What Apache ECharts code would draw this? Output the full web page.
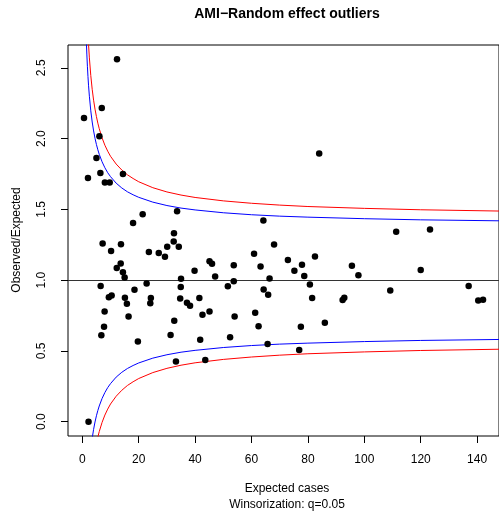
<!DOCTYPE html>
<html>
<head>
<meta charset="utf-8">
<script src="https://cdn.jsdelivr.net/npm/echarts@6/dist/echarts.min.js"></script>
<style>html,body{margin:0;padding:0;background:#fff}#c{width:499px;height:511px}</style>
</head>
<body>
<div id="c"></div>
<script>
// ---- data ----
const expectedCases = [0.6, 2.0, 2.2, 5.0, 6.05, 6.4, 6.9, 8.0, 9.7, 12.3, 14.4, 21.4, 33.6, 18.0, 7.2, 13.7, 32.5, 32.4, 10.2, 23.6, 27.1, 30.1, 29.3, 34.2, 13.6, 12.2, 14.4, 15.0, 35.0, 39.8, 6.5, 22.8, 34.9, 18.5, 10.4, 9.4, 15.1, 24.3, 24.1, 15.8, 34.7, 37.1, 38.2, 41.5, 7.9, 16.4, 42.6, 32.6, 7.7, 6.75, 19.7, 31.3, 41.8, 33.2, 43.6, 84.0, 64.2, 68.0, 60.9, 45.1, 46.0, 53.7, 63.2, 72.9, 75.2, 77.9, 82.5, 78.7, 47.1, 53.7, 66.4, 51.6, 80.7, 64.3, 65.9, 81.5, 92.3, 92.9, 45.1, 54.0, 61.3, 62.5, 77.5, 86.0, 52.4, 65.7, 76.9, 111.3, 123.3, 95.6, 97.9, 120.0, 109.2, 137.0, 140.4, 142.1];
const obsExpRatio = [2.145, 1.722, 0.0, 1.863, 2.016, 1.757, 2.216, 1.69, 1.69, 2.56, 1.75, 1.466, 1.487, 1.404, 1.259, 1.254, 1.332, 1.273, 1.205, 1.198, 1.191, 1.235, 1.165, 1.235, 1.118, 1.085, 1.056, 1.019, 1.009, 1.066, 0.958, 0.977, 0.951, 0.932, 0.892, 0.880, 0.875, 0.873, 0.836, 0.833, 0.871, 0.840, 0.819, 0.873, 0.779, 0.744, 0.755, 0.713, 0.670, 0.610, 0.567, 0.612, 0.579, 0.426, 0.435, 1.894, 1.421, 1.252, 1.186, 1.134, 1.115, 1.106, 1.096, 1.143, 1.066, 1.108, 1.167, 1.03, 1.026, 0.993, 1.012, 0.956, 0.970, 0.934, 0.896, 0.873, 0.859, 0.875, 0.779, 0.744, 0.769, 0.675, 0.670, 0.699, 0.596, 0.548, 0.506, 1.341, 1.358, 1.101, 1.035, 1.071, 0.927, 0.958, 0.857, 0.861];

// funnel limits sampled along expected cases
const limitE = [1.4, 1.6, 1.8, 2, 2.2, 2.5, 3, 3.5, 4, 4.5, 5, 5.5, 6, 7, 8, 9, 10, 12, 14, 16, 18, 20, 25, 30, 35, 40, 50, 60, 70, 80, 100, 120, 148];
const blueUpper = [2.701, 2.597, 2.511, 2.439, 2.377, 2.299, 2.196, 2.117, 2.054, 2.002, 1.958, 1.921, 1.889, 1.836, 1.794, 1.759, 1.731, 1.685, 1.651, 1.624, 1.603, 1.585, 1.551, 1.527, 1.509, 1.496, 1.476, 1.462, 1.452, 1.445, 1.434, 1.426, 1.419];
const blueLower = [-0.701, -0.597, -0.511, -0.439, -0.377, -0.299, -0.196, -0.117, -0.054, -0.002, 0.042, 0.079, 0.111, 0.164, 0.206, 0.241, 0.269, 0.315, 0.349, 0.376, 0.397, 0.415, 0.449, 0.473, 0.491, 0.504, 0.524, 0.538, 0.548, 0.555, 0.566, 0.574, 0.581];
const redUpper = [3.061, 2.934, 2.830, 2.741, 2.666, 2.570, 2.445, 2.348, 2.271, 2.208, 2.155, 2.109, 2.070, 2.005, 1.953, 1.911, 1.875, 1.820, 1.778, 1.744, 1.718, 1.695, 1.653, 1.623, 1.601, 1.584, 1.560, 1.543, 1.530, 1.520, 1.507, 1.497, 1.488];
const redLower = [-1.061, -0.934, -0.830, -0.741, -0.666, -0.570, -0.445, -0.348, -0.271, -0.208, -0.155, -0.109, -0.070, -0.005, 0.047, 0.089, 0.125, 0.180, 0.222, 0.256, 0.282, 0.305, 0.347, 0.377, 0.399, 0.416, 0.440, 0.457, 0.470, 0.480, 0.493, 0.503, 0.512];

const xTicks = [0, 20, 40, 60, 80, 100, 120, 140];
const yTicks = [0, 0.5, 1, 1.5, 2, 2.5];
const reference = 1;

const titleText = 'AMI\u2212Random effect outliers';
const xName = 'Expected cases';
const subText = 'Winsorization: q=0.05';
const yName = 'Observed/Expected';

// ---- chart ----
const chart = echarts.init(document.getElementById('c'), null, {renderer: 'canvas'});
const pts = expectedCases.map((e, i) => [e, obsExpRatio[i]]);
const line = (ys) => limitE.map((e, i) => [e, ys[i]]);
const font = 'Liberation Sans, Arial, Helvetica, sans-serif';

const lineSeries = (ys, color) => ({
  type: 'line', data: line(ys), showSymbol: false, symbol: 'none', clip: true,
  lineStyle: {color: color, width: 1}, silent: true, z: 3, animation: false
});

chart.setOption({
  animation: false,
  grid: {left: 68, top: 45, right: -7, bottom: 75, show: true, borderColor: '#000', borderWidth: 1, backgroundColor: 'transparent'},
  xAxis: {
    type: 'value', min: -5.08, max: 147.76,
    axisLine: {show: false, onZero: false},
    splitLine: {show: false},
    axisTick: {show: true, inside: false, length: 7, customValues: xTicks, lineStyle: {color: '#000', width: 1}},
    axisLabel: {show: true, customValues: xTicks, margin: 18, fontSize: 12, color: '#000', fontFamily: font,
      formatter: v => String(v)}
  },
  yAxis: {
    type: 'value', min: -0.101, max: 2.661,
    axisLine: {show: false, onZero: false},
    splitLine: {show: false},
    axisTick: {show: true, inside: false, length: 7, customValues: yTicks, lineStyle: {color: '#000', width: 1}},
    axisLabel: {show: true, customValues: yTicks, rotate: 90, margin: 20, fontSize: 12, color: '#000', fontFamily: font,
      formatter: v => Number(v).toFixed(1)}
  },
  graphic: [
    {type: 'text', x: 287, y: 14, style: {text: titleText, font: 'bold 14px ' + font, fill: '#000', textAlign: 'center', textVerticalAlign: 'middle'}},
    {type: 'text', x: 287, y: 489, style: {text: xName, font: '12px ' + font, fill: '#000', textAlign: 'center', textVerticalAlign: 'middle'}},
    {type: 'text', x: 287, y: 505, style: {text: subText, font: '12px ' + font, fill: '#000', textAlign: 'center', textVerticalAlign: 'middle'}},
    {type: 'text', x: 17, y: 240, rotation: Math.PI / 2, style: {text: yName, font: '12px ' + font, fill: '#000', textAlign: 'center', textVerticalAlign: 'middle'}}
  ],
  series: [
    lineSeries(blueUpper, '#0000ff'),
    lineSeries(blueLower, '#0000ff'),
    lineSeries(redUpper, '#ff0000'),
    lineSeries(redLower, '#ff0000'),
    {
      type: 'scatter', data: pts, symbol: 'circle', symbolSize: 6.5,
      itemStyle: {color: '#000', opacity: 1}, z: 5, clip: false,
      markLine: {
        silent: true, symbol: 'none', label: {show: false},
        lineStyle: {color: '#333', width: 1, type: 'solid'},
        data: [{yAxis: reference}]
      }
    }
  ]
});
</script>
</body>
</html>
